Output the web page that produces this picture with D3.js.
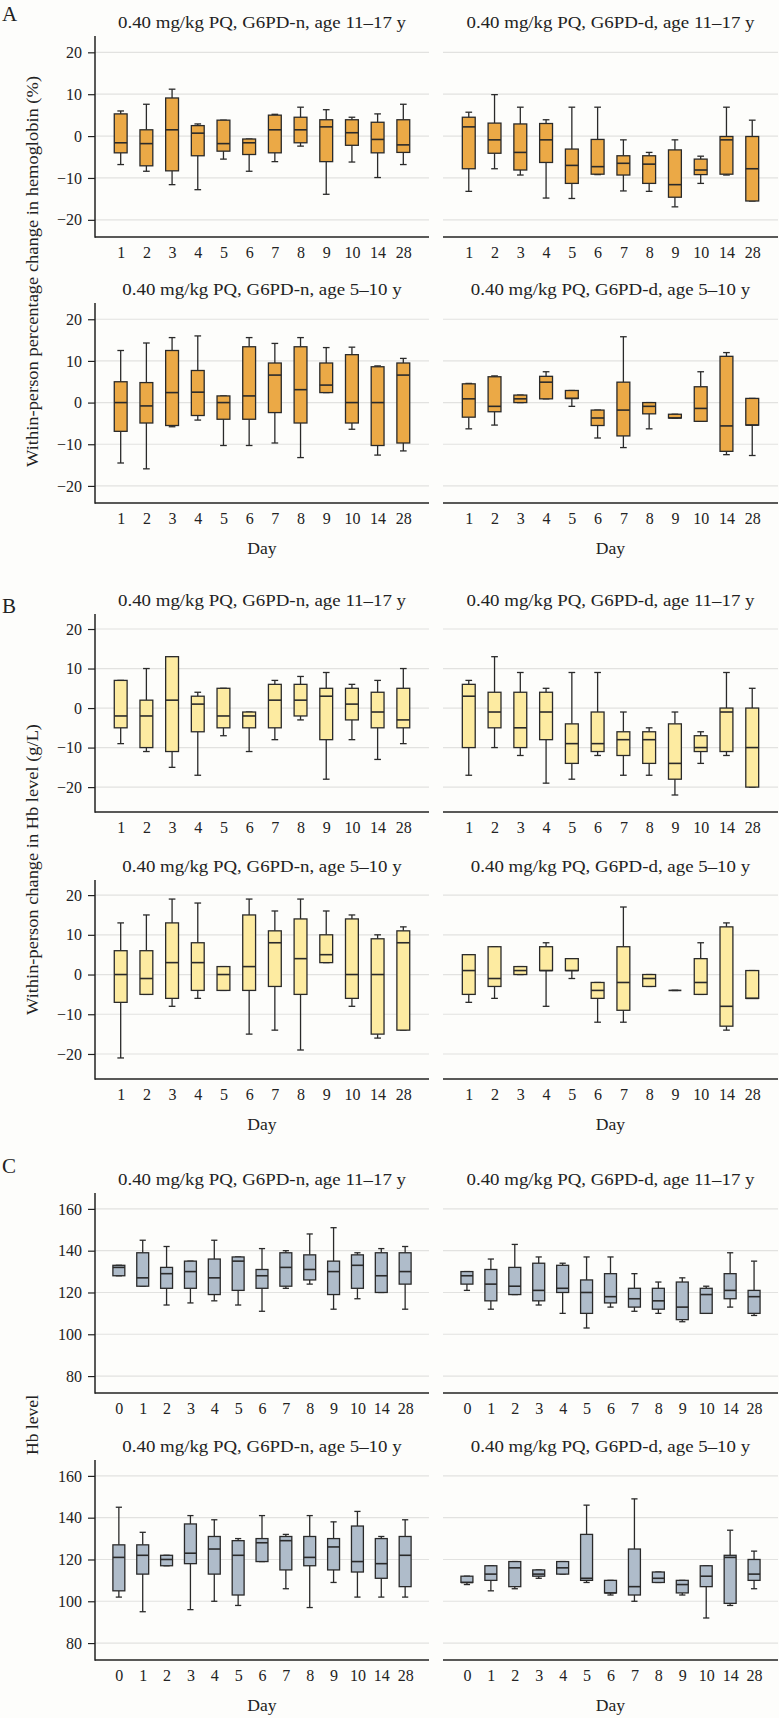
<!DOCTYPE html>
<html><head><meta charset="utf-8">
<script src="https://cdn.jsdelivr.net/npm/d3@7"></script>
<style>
body{margin:0;background:#fdfdfb}
text{font-family:"Liberation Serif","Times New Roman",serif;fill:#222}
</style>
</head><body>
<svg id="c" width="779" height="1718"></svg>
<script>
// ---- categories and ticks ----
const daysAB = ["1","2","3","4","5","6","7","8","9","10","14","28"];
const daysC  = ["0","1","2","3","4","5","6","7","8","9","10","14","28"];
const ticksPct = [-20,-10,0,10,20];
const ticksHb  = [80,100,120,140,160];
const titles = [
  "0.40 mg/kg PQ, G6PD-n, age 11\u201317 y",
  "0.40 mg/kg PQ, G6PD-d, age 11\u201317 y",
  "0.40 mg/kg PQ, G6PD-n, age 5\u201310 y",
  "0.40 mg/kg PQ, G6PD-d, age 5\u201310 y"
];
const yLabels = [
  "Within-person percentage change in hemoglobin (%)",
  "Within-person change in Hb level (g/L)",
  "Hb level"
];

// ---- box statistics per day: [min, q1, median, q3, max] ----
// A: percentage change
const pctN_11_17 = [[-6.8,-4.0,-1.6,5.3,6.0],[-8.4,-7.1,-1.8,1.5,7.6],[-11.6,-8.3,1.5,9.1,11.2],[-12.8,-4.7,0.7,2.5,2.9],
  [-5.5,-3.6,-1.8,3.8,3.8],[-8.4,-4.4,-1.6,-0.7,-0.7],[-6.1,-4.0,1.5,5.0,5.2],[-2.4,-1.6,1.5,4.5,6.9],
  [-13.9,-6.1,2.2,3.9,6.3],[-6.2,-2.2,0.8,3.9,4.5],[-9.9,-4.0,-0.8,3.3,5.3],[-6.8,-3.9,-2.1,3.9,7.6]];
const pctD_11_17 = [[-13.2,-7.8,2.2,4.5,5.7],[-7.8,-4.1,-0.9,3.1,9.9],[-9.3,-8.1,-3.9,2.9,6.9],[-14.8,-6.3,-0.9,3.0,3.9],
  [-14.9,-11.3,-7.0,-3.1,6.9],[-9.2,-9.1,-7.3,-0.8,6.9],[-13.1,-9.3,-6.5,-4.7,-0.9],[-13.2,-11.3,-6.7,-4.7,-3.9],
  [-16.9,-14.6,-11.6,-3.3,-0.9],[-11.3,-9.2,-8.1,-5.5,-4.8],[-9.3,-9.1,-0.9,-0.1,6.9],[-15.5,-15.5,-7.8,-0.1,3.8]];
const pctN_5_10 = [[-14.5,-6.9,0,5.0,12.5],[-15.9,-4.9,-0.8,4.8,14.3],[-5.8,-5.5,2.4,12.5,15.6],[-4.2,-3.1,2.5,7.7,16.0],
  [-10.3,-4.0,0,1.6,1.6],[-10.3,-4.0,1.6,13.4,15.6],[-9.7,-2.4,6.6,9.5,14.2],[-13.2,-4.9,3.1,13.4,15.6],
  [2.4,2.4,4.2,9.5,13.2],[-6.4,-4.9,0,11.5,13.3],[-12.6,-10.3,0,8.6,8.8],[-11.6,-9.7,6.6,9.5,10.6]];
const pctD_5_10 = [[-6.3,-3.5,0.9,4.5,4.6],[-5.4,-2.2,-0.9,6.2,6.4],[0,0,0.9,1.8,1.8],[0.9,0.9,4.9,6.3,7.4],
  [-0.9,1.0,1.0,2.9,2.9],[-8.5,-5.5,-3.7,-1.8,-1.8],[-10.8,-8.0,-1.8,4.9,15.8],[-6.3,-2.7,-0.9,0,0],
  [-3.7,-3.7,-3.7,-2.8,-2.8],[-4.5,-4.5,-1.4,3.8,7.4],[-12.5,-11.7,-5.6,11.1,12.0],[-12.7,-5.4,-5.4,1.0,1.0]];
// B: absolute change (g/L)
const gN_11_17 = [[-9,-5,-2,7,7],[-11,-10,-2,2,10],[-15,-11,2,13,13],[-17,-6,1,3,4],[-7,-5,-2,5,5],[-11,-5,-2,-1,-1],
  [-8,-5,2,6,7],[-3,-2,2,6,8],[-18,-8,3,5,9],[-8,-3,1,5,6],[-13,-5,-1,4,7],[-9,-5,-3,5,10]];
const gD_11_17 = [[-17,-10,3,6,7],[-10,-5,-1,4,13],[-12,-10,-5,4,9],[-19,-8,-1,4,5],[-18,-14,-9,-4,9],[-12,-11,-9,-1,9],
  [-17,-12,-8,-6,-1],[-17,-14,-8,-6,-5],[-22,-18,-14,-4,-1],[-14,-11,-10,-7,-6],[-12,-11,-1,0,9],[-20,-20,-10,0,5]];
const gN_5_10 = [[-21,-7,0,6,13],[-5,-5,-1,6,15],[-8,-6,3,13,19],[-6,-4,3,8,18],[-4,-4,0,2,2],[-15,-4,2,15,19],
  [-14,-3,8,11,16],[-19,-5,4,14,19],[3,3,5,10,16],[-8,-6,0,14,15],[-16,-15,0,9,10],[-14,-14,8,11,12]];
const gD_5_10 = [[-7,-5,1,5,5],[-6,-3,-1,7,7],[0,0,1,2,2],[-8,1,1,7,8],[-1,1,1,4,4],[-12,-6,-4,-2,-2],
  [-12,-9,-2,7,17],[-3,-3,-1,0,0],[-4,-4,-4,-4,-4],[-5,-5,-2,4,8],[-14,-13,-8,12,13],[-6,-6,-6,1,1]];
// C: Hb level
const hbN_11_17 = [[128,128,132,133,133],[123,123,127,139,145],[114,122,129,132,142],[115,122,130,135,135],[116,119,127,136,145],
  [114,121,135,137,137],[111,122,128,131,141],[122,123,132,139,140],[124,126,131,138,148],[112,119,130,135,151],
  [117,122,133,138,139],[120,120,128,139,141],[112,124,130,139,142]];
const hbD_11_17 = [[121,124,128,130,130],[112,116,124,131,136],[119,119,123,132,143],[114,116,121,134,137],[110,120,122,133,134],
  [103,110,120,126,137],[113,115,118,129,137],[111,113,117,122,129],[110,112,116,122,125],[106,107,113,125,127],
  [110,110,119,122,123],[113,117,121,129,139],[109,110,118,121,135]];
const hbN_5_10 = [[102,105,121,127,145],[95,113,122,127,133],[117,117,120,122,122],[96,118,123,137,141],[100,113,125,131,139],
  [98,103,122,129,130],[119,119,128,130,141],[106,115,129,131,132],[97,117,121,131,141],[109,115,126,130,138],
  [102,114,119,136,143],[102,111,118,130,131],[102,107,122,131,139]];
const hbD_5_10 = [[108,109,109,112,112],[105,110,113,117,117],[106,107,116,119,119],[111,112,113,115,115],[113,113,116,119,119],
  [109,110,111,132,146],[103,104,104,110,110],[100,103,107,125,149],[109,109,111,114,114],[103,104,108,110,110],
  [92,107,112,117,117],[98,99,121,122,134],[106,110,113,120,124]];

// ---- layout ----
const W = 779, H = 1718;
const svg = d3.select("#c");
svg.append("rect").attr("width",W).attr("height",H).attr("fill","#fdfdfb");

const colX = [[95,429],[443,778]];
const fills = {A:"#EBA946", B:"#FDEBA1", C:"#AFBCCA"};

const panels = [
  {d:pctN_11_17, cats:daysAB, t:0, col:0, top:36,   bot:237,  dom:[-24.1,23.9], ticks:ticksPct, f:fills.A, day:false},
  {d:pctD_11_17, cats:daysAB, t:1, col:1, top:36,   bot:237,  dom:[-24.1,23.9], ticks:ticksPct, f:fills.A, day:false},
  {d:pctN_5_10,  cats:daysAB, t:2, col:0, top:303,  bot:503,  dom:[-24.1,23.9], ticks:ticksPct, f:fills.A, day:true},
  {d:pctD_5_10,  cats:daysAB, t:3, col:1, top:303,  bot:503,  dom:[-24.1,23.9], ticks:ticksPct, f:fills.A, day:true},
  {d:gN_11_17,   cats:daysAB, t:0, col:0, top:614,  bot:812,  dom:[-26.3,23.8], ticks:ticksPct, f:fills.B, day:false},
  {d:gD_11_17,   cats:daysAB, t:1, col:1, top:614,  bot:812,  dom:[-26.3,23.8], ticks:ticksPct, f:fills.B, day:false},
  {d:gN_5_10,    cats:daysAB, t:2, col:0, top:880,  bot:1079, dom:[-26.3,23.8], ticks:ticksPct, f:fills.B, day:true},
  {d:gD_5_10,    cats:daysAB, t:3, col:1, top:880,  bot:1079, dom:[-26.3,23.8], ticks:ticksPct, f:fills.B, day:true},
  {d:hbN_11_17,  cats:daysC,  t:0, col:0, top:1193, bot:1393, dom:[71.9,167.6], ticks:ticksHb, f:fills.C, day:false},
  {d:hbD_11_17,  cats:daysC,  t:1, col:1, top:1193, bot:1393, dom:[71.9,167.6], ticks:ticksHb, f:fills.C, day:false},
  {d:hbN_5_10,   cats:daysC,  t:2, col:0, top:1460, bot:1660, dom:[71.9,167.6], ticks:ticksHb, f:fills.C, day:true},
  {d:hbD_5_10,   cats:daysC,  t:3, col:1, top:1460, bot:1660, dom:[71.9,167.6], ticks:ticksHb, f:fills.C, day:true}
];

const FS = 16;
// width factor: the reference typeface is wider than Liberation Serif
const probe = svg.append("text").attr("font-size",FS).text(titles[0]);
const KW = 288 / probe.node().getComputedTextLength();
probe.remove();
function widen(sel, k) {
  sel.each(function(){
    const n = this; const L = n.getComputedTextLength();
    d3.select(n).attr("textLength", L*k).attr("lengthAdjust","spacingAndGlyphs");
  });
}

panels.forEach(p => {
  const [x0,x1] = colX[p.col];
  const x = d3.scalePoint().domain(p.cats).range([x0,x1]).padding(1);
  const y = d3.scaleLinear().domain(p.dom).range([p.bot,p.top]);
  const g = svg.append("g");
  const step = x.step();
  const bw = step*0.5, cw = step*0.26;

  // gridlines
  g.selectAll("line.grid").data(p.ticks).join("line")
    .attr("x1",x0).attr("x2",x1).attr("y1",d=>y(d)).attr("y2",d=>y(d))
    .attr("stroke","#e2e2e0").attr("stroke-width",1.2);

  // title
  const tt = g.append("text").attr("x",(x0+x1)/2).attr("y",p.top-8).attr("text-anchor","middle")
    .attr("font-size",FS).text(titles[p.t]);
  widen(tt, KW);

  // y axis on left column only
  if (p.col===0) {
    const ya = d3.axisLeft(y).tickValues(p.ticks).tickSize(7).tickPadding(6)
      .tickFormat(d => d<0 ? "\u2212"+Math.abs(d) : d);
    const ag = g.append("g").attr("transform",`translate(${x0},0)`).call(ya);
    ag.select(".domain").remove();
    ag.selectAll(".tick line").attr("stroke","#222").attr("stroke-width",1.2);
    ag.selectAll(".tick text").attr("font-size",FS).attr("font-family","Liberation Serif").attr("fill","#222");
    g.append("line").attr("x1",x0).attr("x2",x0).attr("y1",p.top).attr("y2",p.bot+0.75)
      .attr("stroke","#222").attr("stroke-width",1.5);
  }
  // x axis
  const xa = d3.axisBottom(x).tickSize(0).tickPadding(10);
  const xg = g.append("g").attr("transform",`translate(0,${p.bot})`).call(xa);
  xg.select(".domain").remove();
  xg.selectAll(".tick text").attr("font-size",FS).attr("font-family","Liberation Serif").attr("fill","#222").attr("dy","0.71em");
  g.append("line").attr("x1",x0).attr("x2",x1).attr("y1",p.bot).attr("y2",p.bot)
    .attr("stroke","#222").attr("stroke-width",1.5);
  if (p.day) {
    const dt = g.append("text").attr("x",(x0+x1)/2).attr("y",p.bot+51).attr("text-anchor","middle")
      .attr("font-size",FS).text("Day");
    widen(dt, 1.1);
  }

  // boxes
  const rows = p.d.map((s,i)=>({c:p.cats[i], s}));
  const bg = g.selectAll("g.box").data(rows).join("g");
  const stroke = "#2a2a2a", sw = 1.3;
  bg.append("line").attr("x1",d=>x(d.c)).attr("x2",d=>x(d.c))
    .attr("y1",d=>y(d.s[4])).attr("y2",d=>y(d.s[3])).attr("stroke",stroke).attr("stroke-width",sw);
  bg.append("line").attr("x1",d=>x(d.c)).attr("x2",d=>x(d.c))
    .attr("y1",d=>y(d.s[1])).attr("y2",d=>y(d.s[0])).attr("stroke",stroke).attr("stroke-width",sw);
  bg.append("line").attr("x1",d=>x(d.c)-cw/2).attr("x2",d=>x(d.c)+cw/2)
    .attr("y1",d=>y(d.s[4])).attr("y2",d=>y(d.s[4])).attr("stroke",stroke).attr("stroke-width",sw);
  bg.append("line").attr("x1",d=>x(d.c)-cw/2).attr("x2",d=>x(d.c)+cw/2)
    .attr("y1",d=>y(d.s[0])).attr("y2",d=>y(d.s[0])).attr("stroke",stroke).attr("stroke-width",sw);
  bg.append("rect").attr("x",d=>x(d.c)-bw/2).attr("width",bw)
    .attr("y",d=>y(d.s[3])).attr("height",d=>Math.max(0,y(d.s[1])-y(d.s[3])))
    .attr("fill",p.f).attr("stroke",stroke).attr("stroke-width",sw);
  bg.append("line").attr("x1",d=>x(d.c)-bw/2).attr("x2",d=>x(d.c)+bw/2)
    .attr("y1",d=>y(d.s[2])).attr("y2",d=>y(d.s[2])).attr("stroke",stroke).attr("stroke-width",1.6);
});

// panel letters
[["A",21],["B",613],["C",1173]].forEach(([l,yy]) => {
  svg.append("text").attr("x",2).attr("y",yy).attr("font-size",21).text(l);
});

// y axis labels (target lengths)
const yl = [[271.5,yLabels[0],391],[869.5,yLabels[1],291],[1425,yLabels[2],60]];
yl.forEach(([cy,t,len]) => {
  svg.append("text").attr("transform",`translate(38,${cy}) rotate(-90)`)
    .attr("text-anchor","middle").attr("font-size",FS)
    .attr("textLength",len).attr("lengthAdjust","spacingAndGlyphs").text(t);
});
</script>
</body></html>
